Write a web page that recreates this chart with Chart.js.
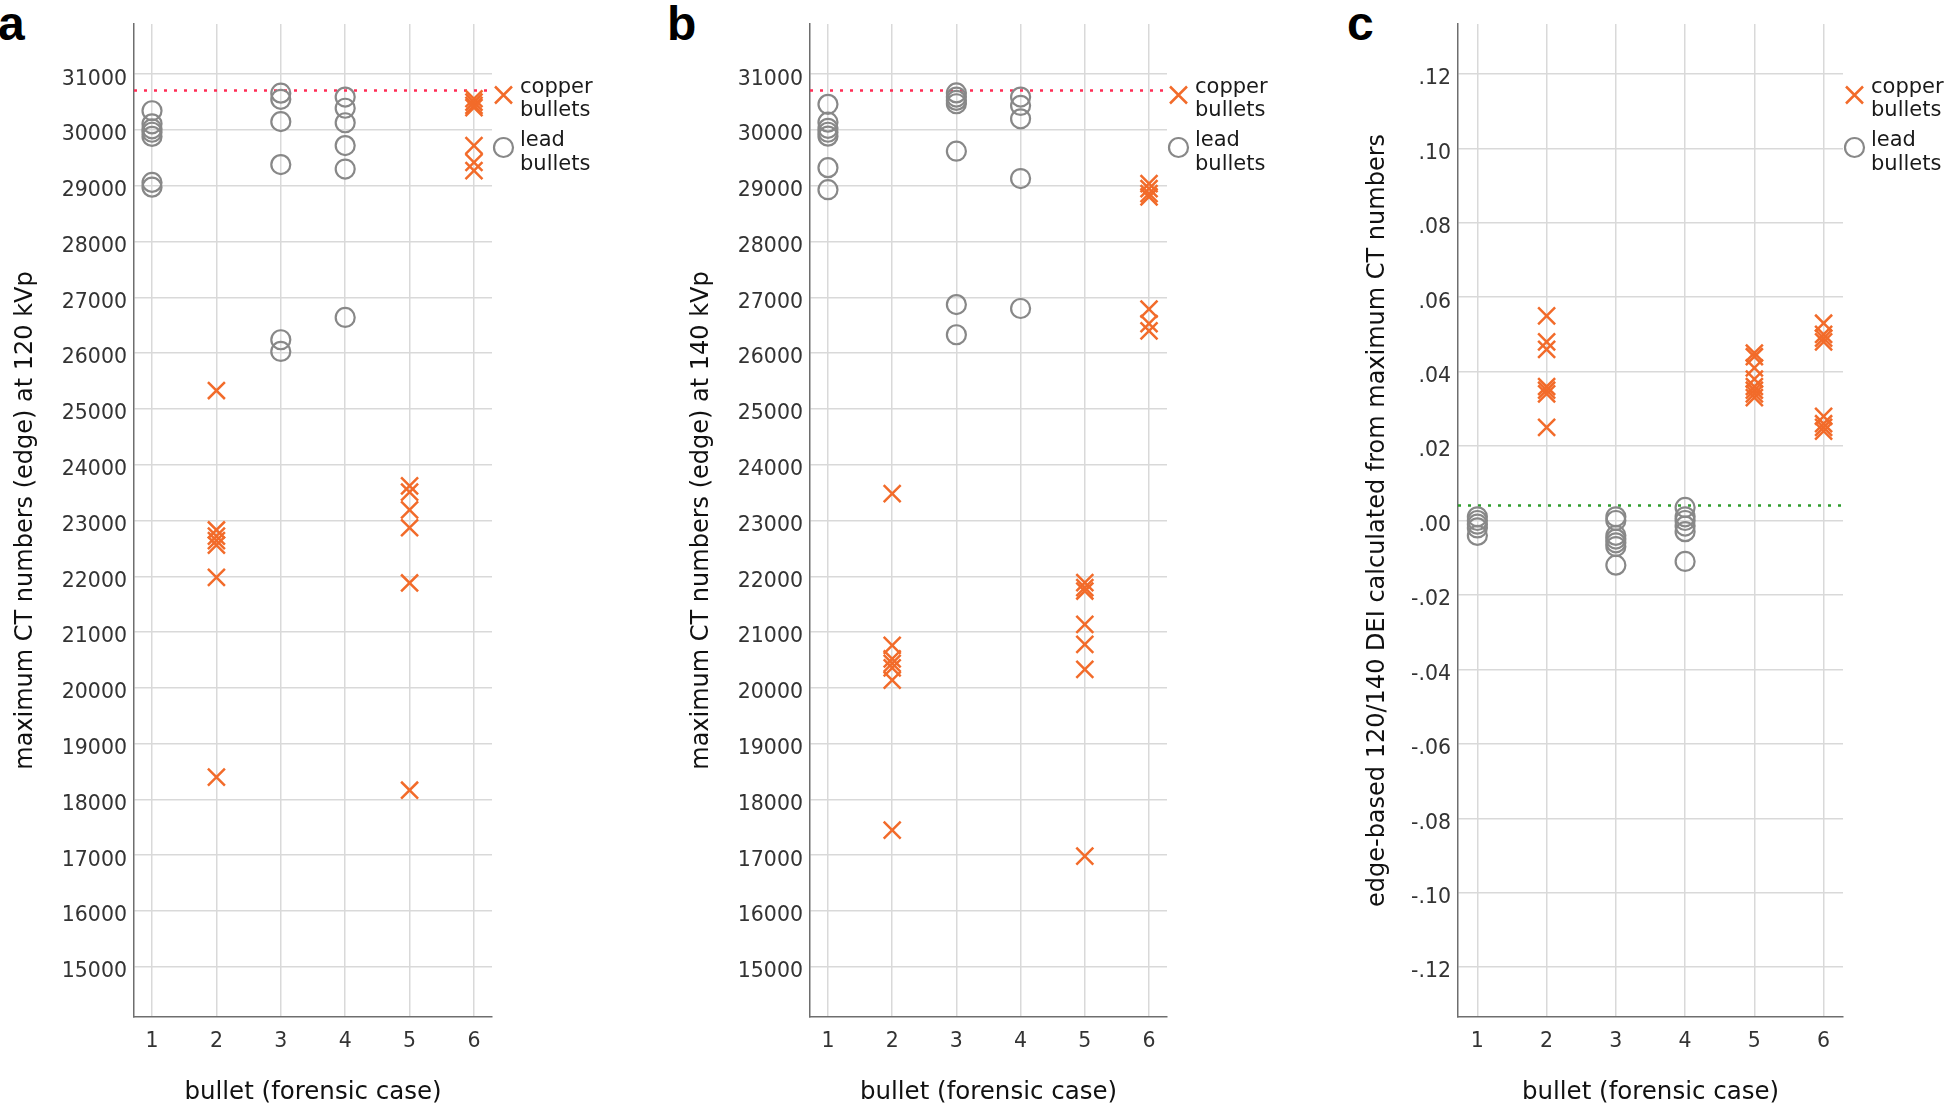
<!DOCTYPE html>
<html>
<head>
<meta charset="utf-8">
<script src="https://cdn.jsdelivr.net/npm/chart.js@4.4.0/dist/chart.umd.min.js"></script>
<style>
body { margin: 0; width: 1946px; height: 1108px; background: #fff; position: relative; overflow: hidden; }
canvas { position: absolute; top: 0; }
.tag { position: absolute; top: 0; font: bold 48px "Liberation Sans", Arial, sans-serif; line-height: 48px; color: #000; }
</style>
</head>
<body>
<div class="tag" style="left:-2px">a</div>
<div class="tag" style="left:667px">b</div>
<div class="tag" style="left:1347px">c</div>
<canvas id="chartA" width="677" height="1108" style="left:0px"></canvas>
<canvas id="chartB" width="676" height="1108" style="left:676px"></canvas>
<canvas id="chartC" width="594" height="1108" style="left:1352px"></canvas>
<script>
var bullets = [1, 2, 3, 4, 5, 6];
var ctTicks = [15000, 16000, 17000, 18000, 19000, 20000, 21000, 22000, 23000,
    24000, 25000, 26000, 27000, 28000, 29000, 30000, 31000];
var deiTicks = [-0.12, -0.10, -0.08, -0.06, -0.04, -0.02, 0, 0.02, 0.04, 0.06, 0.08, 0.10, 0.12];

// maximum CT numbers at 120 kVp, one list per bullet
var lead120 = [
    [30345, 30110, 30020, 29960, 29885, 29060, 28975],
    [],
    [30660, 30550, 30150, 29380, 26240, 26030],
    [30590, 30390, 30130, 29720, 29300, 26640],
    [],
    []
];
var copper120 = [
    [],
    [25330, 22830, 22720, 22640, 22560, 21980, 18400],
    [],
    [],
    [23620, 23510, 23190, 22870, 21880, 18165],
    [30560, 30500, 30440, 30400, 29720, 29420, 29270]
];

// maximum CT numbers at 140 kVp
var lead140 = [
    [30460, 30140, 30030, 29960, 29890, 29325, 28930],
    [],
    [30665, 30590, 30530, 30470, 29620, 26870, 26330],
    [30590, 30440, 30200, 29130, 26800],
    [],
    []
];
var copper140 = [
    [],
    [23480, 20760, 20520, 20440, 20360, 20140, 17450],
    [],
    [],
    [21885, 21795, 21736, 21138, 20779, 20330, 16982],
    [29040, 28950, 28860, 28800, 26790, 26530, 26400]
];

// edge-based 120/140 DEI
var leadDEI = [
    [0.001, 0.0, -0.001, -0.002, -0.004],
    [],
    [0.001, 0.0, -0.004, -0.005, -0.006, -0.007, -0.012],
    [0.0035, 0.001, 0.0, -0.0015, -0.003, -0.011],
    [],
    []
];
var copperDEI = [
    [],
    [0.055, 0.048, 0.046, 0.036, 0.035, 0.034, 0.025],
    [],
    [],
    [0.045, 0.044, 0.041, 0.038, 0.036, 0.035, 0.034, 0.033],
    [0.053, 0.050, 0.049, 0.048, 0.028, 0.026, 0.025, 0.024]
];

var cutoff120 = 30710;
var cutoff140 = 30710;
var cutoffDEI = 0.004;

var FONT = '"DejaVu Sans", Verdana, sans-serif';
var copperColor = '#f26b2a';
var leadColor = '#888888';
var xMin = 0.72, xMax = 6.28;

function toPoints(groups) {
    var pts = [];
    groups.forEach(function(vals, i) {
        vals.forEach(function(v) { pts.push({ x: bullets[i], y: v }); });
    });
    return pts;
}

var sideLegend = {
    id: 'sideLegend',
    afterDraw: function(chart) {
        var ctx = chart.ctx, a = chart.chartArea;
        var mx = a.right + 11.5, tx = a.right + 28;
        ctx.save();
        ctx.strokeStyle = copperColor;
        ctx.lineWidth = 2.5;
        var d = 8.5, cy = a.top + 71;
        ctx.beginPath();
        ctx.moveTo(mx - d, cy - d); ctx.lineTo(mx + d, cy + d);
        ctx.moveTo(mx + d, cy - d); ctx.lineTo(mx - d, cy + d);
        ctx.stroke();
        ctx.strokeStyle = leadColor;
        ctx.lineWidth = 2.2;
        ctx.beginPath();
        ctx.arc(mx, a.top + 123.5, 9.5, 0, Math.PI * 2);
        ctx.stroke();
        ctx.fillStyle = '#1a1a1a';
        ctx.font = '21px ' + FONT;
        ctx.textAlign = 'left';
        ctx.textBaseline = 'alphabetic';
        ctx.fillText('copper', tx, a.top + 69);
        ctx.fillText('bullets', tx, a.top + 92);
        ctx.fillText('lead', tx, a.top + 122);
        ctx.fillText('bullets', tx, a.top + 146);
        ctx.restore();
    }
};

function makePanel(id, p) {
    return new Chart(document.getElementById(id), {
        type: 'scatter',
        data: {
            datasets: [{
                label: 'lead bullets',
                data: toPoints(p.lead),
                pointStyle: 'circle',
                pointRadius: 9.5,
                pointHoverRadius: 9.5,
                pointBorderWidth: 2.2,
                pointBorderColor: leadColor,
                pointBackgroundColor: 'rgba(0,0,0,0)'
            },
            {
                label: 'copper bullets',
                data: toPoints(p.copper),
                pointStyle: 'crossRot',
                pointRadius: 12,
                pointHoverRadius: 12,
                pointBorderWidth: 2.5,
                pointBorderColor: copperColor,
                pointBackgroundColor: copperColor
            },
            {
                label: 'cutoff',
                data: [{ x: xMin, y: p.cutoff }, { x: xMax, y: p.cutoff }],
                showLine: true,
                pointRadius: 0,
                borderColor: p.cutoffColor,
                borderWidth: 2.5,
                borderDash: [3, 7]
            }]
        },
        options: {
            responsive: false,
            animation: false,
            devicePixelRatio: 1,
            layout: { padding: { top: 24, right: p.padRight, bottom: 0, left: 0 } },
            plugins: { legend: { display: false }, tooltip: { enabled: false } },
            scales: {
                x: {
                    type: 'linear',
                    min: xMin,
                    max: xMax,
                    afterBuildTicks: function(s) { s.ticks = bullets.map(function(v) { return { value: v }; }); },
                    afterFit: function(s) { s.height = 91; },
                    grid: { color: '#d9d9d9', lineWidth: 1.5, drawTicks: false },
                    border: { color: '#6e6e6e', width: 1.5 },
                    ticks: {
                        padding: 12,
                        color: '#333',
                        font: { family: FONT, size: 20.5 },
                        callback: function(v) { return String(v); }
                    },
                    title: {
                        display: true,
                        text: 'bullet (forensic case)',
                        color: '#111',
                        font: { family: FONT, size: 24.5 },
                        padding: { top: 0, bottom: 1 }
                    }
                },
                y: {
                    type: 'linear',
                    min: p.yMin,
                    max: p.yMax,
                    afterBuildTicks: function(s) { s.ticks = p.yTicks.map(function(v) { return { value: v }; }); },
                    afterFit: function(s) { s.width = p.yWidth; },
                    grid: { color: '#d9d9d9', lineWidth: 1.5, drawTicks: false },
                    border: { color: '#6e6e6e', width: 1.5 },
                    ticks: {
                        padding: 7,
                        labelOffset: 5,
                        color: '#333',
                        font: { family: FONT, size: 20.5 },
                        callback: p.fmt
                    },
                    title: {
                        display: true,
                        text: p.yTitle,
                        color: '#111',
                        font: { family: FONT, size: 24 },
                        padding: { top: 11, bottom: 0 }
                    }
                }
            }
        },
        plugins: [sideLegend]
    });
}

function ctLabel(v) { return String(v); }
function deiLabel(v) { return v.toFixed(2).replace('0.', '.'); }

makePanel('chartA', {
    lead: lead120, copper: copper120, cutoff: cutoff120, cutoffColor: '#ff2d55',
    yMin: 14100, yMax: 31900, yTicks: ctTicks, fmt: ctLabel, yWidth: 134, padRight: 185,
    yTitle: 'maximum CT numbers (edge) at 120 kVp'
});
makePanel('chartB', {
    lead: lead140, copper: copper140, cutoff: cutoff140, cutoffColor: '#ff2d55',
    yMin: 14100, yMax: 31900, yTicks: ctTicks, fmt: ctLabel, yWidth: 134, padRight: 185,
    yTitle: 'maximum CT numbers (edge) at 140 kVp'
});
makePanel('chartC', {
    lead: leadDEI, copper: copperDEI, cutoff: cutoffDEI, cutoffColor: '#2f9e2f',
    yMin: -0.1334, yMax: 0.1334, yTicks: deiTicks, fmt: deiLabel, yWidth: 106, padRight: 103,
    yTitle: 'edge-based 120/140 DEI calculated from maximum CT numbers'
});
</script>
</body>
</html>
